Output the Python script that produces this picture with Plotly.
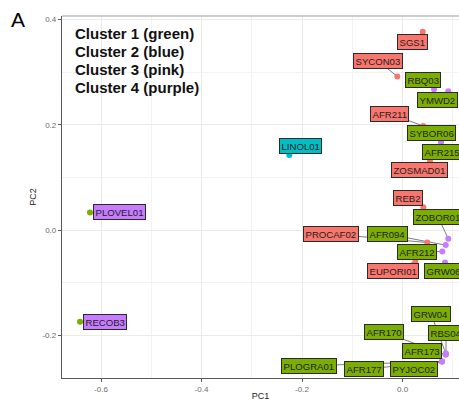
import plotly.graph_objects as go

# Sample names, PCA scores and cluster membership
samples = ["SGS1", "SYCON03", "RBQ03", "YMWD2", "AFR211", "SYBOR06", "AFR215",
           "ZOSMAD01", "LINOL01", "REB2", "ZOBOR01", "PROCAF02", "AFR094", "AFR212",
           "EUPORI01", "GRW06", "GRW04", "RBS04", "AFR170", "AFR173", "PLOGRA01",
           "AFR177", "PYJOC02", "PLOVEL01", "RECOB3"]
pc1 = [0.0402, -0.0103, 0.0627, 0.0911, 0.0414, 0.0766, 0.1300,
       0.0547, -0.2253, 0.0414, 0.0911, 0.0494, 0.0860, 0.0792,
       0.0255, 0.0846, 0.0860, 0.0866, 0.0855, 0.0860, 0.0786,
       0.0786, 0.0786, -0.6219, -0.6418]
pc2 = [0.377, 0.292, 0.268, 0.264, 0.198, 0.167, 0.150,
       0.131, 0.143, 0.0437, -0.0165, -0.0236, -0.0285, -0.0406,
       -0.0596, -0.0615, -0.234, -0.236, -0.237, -0.2355, -0.2496,
       -0.2496, -0.2496, 0.0334, -0.174]
cluster = [3, 3, 1, 1, 3, 1, 1,
           3, 2, 3, 1, 3, 1, 1,
           3, 1, 1, 1, 1, 1, 1,
           1, 1, 4, 4]

# Repelled label positions (data units)
label_pc1 = [0.0189, -0.0482, 0.0408, 0.0687, -0.0255, 0.0567, 0.0794,
             0.0342, -0.2030, 0.0109, 0.0707, -0.1417, -0.0308, 0.0289,
             -0.0189, 0.0806, 0.0567, 0.0866, -0.0368, 0.0388, -0.1860,
             -0.0766, 0.0223, -0.5622, -0.5914]
label_pc2 = [0.358, 0.321, 0.2855, 0.248, 0.221, 0.185, 0.148,
             0.1136, 0.159, 0.0613, 0.0253, -0.0074, -0.0074, -0.0422,
             -0.0773, -0.0783, -0.159, -0.195, -0.194, -0.229, -0.2577,
             -0.2644, -0.2644, 0.0338, -0.1747]

legend_lines = ["Cluster 1 (green)", "Cluster 2 (blue)", "Cluster 3 (pink)", "Cluster 4 (purple)"]
x_ticks = [-0.6, -0.4, -0.2, 0.0]
y_ticks = [-0.2, 0.0, 0.2, 0.4]

GREEN, BLUE, PINK, PURPLE = "#7CAE00", "#00BFC4", "#F8766D", "#C77CFF"
label_colour = {1: GREEN, 2: BLUE, 3: PINK, 4: PURPLE}
point_colour = {1: PURPLE, 2: BLUE, 3: PINK, 4: GREEN}

FONT = "Liberation Sans, Arial, sans-serif"

W, H = 459, 401
L, R, T, B = 62, 0, 16, 23


def px_to_paper(x, y):
    """Pixel position on the page -> paper coordinates of the plot area."""
    return (x - L) / (W - L - R), 1 - (y - T) / (H - T - B)


fig = go.Figure()

# connector segments from each label to its point
for x0, y0, x1, y1 in zip(label_pc1, label_pc2, pc1, pc2):
    fig.add_trace(go.Scatter(x=[x0, x1], y=[y0, y1], mode="lines",
                             line=dict(color="#6e6e6e", width=0.9),
                             hoverinfo="skip", showlegend=False))

fig.add_trace(go.Scatter(
    x=pc1, y=pc2, mode="markers", text=samples,
    marker=dict(size=6, color=[point_colour[c] for c in cluster], line=dict(width=0)),
    showlegend=False, hovertemplate="%{text}<extra></extra>"))

for name, lx, ly, c in zip(samples, label_pc1, label_pc2, cluster):
    fig.add_annotation(x=lx, y=ly, xref="x", yref="y", text=name, showarrow=False,
                       font=dict(family=FONT, size=9.6, color="#1e1e1e"),
                       bgcolor=label_colour[c], bordercolor="#2a2a2a",
                       borderwidth=1, borderpad=1.5)

for i, line in enumerate(legend_lines):
    px, py = px_to_paper(73, 33 + 18 * i)
    fig.add_annotation(x=px, y=py, xref="paper", yref="paper", text=f"<b>{line}</b>",
                       showarrow=False, xanchor="left", yanchor="middle",
                       font=dict(family=FONT, size=15, color="#111111"))

# panel letter
px, py = px_to_paper(18, 20)
fig.add_annotation(x=px, y=py, xref="paper", yref="paper", text="A", showarrow=False,
                   xanchor="center", yanchor="middle",
                   font=dict(family=FONT, size=21, color="#000000"))

# top border of the panel
fig.add_shape(type="line", xref="paper", yref="paper", x0=0, x1=1, y0=1, y1=1,
              line=dict(color="#9e9e9e", width=1))

axis_common = dict(
    showgrid=True, gridcolor="#ebebeb", gridwidth=1,
    zeroline=False, showline=True, linecolor="#5a5a5a", linewidth=1.3,
    ticks="outside", ticklen=3, tickcolor="#5a5a5a", tickwidth=1,
    tickfont=dict(family=FONT, size=8, color="#6a6a6a"),
    minor=dict(dtick=0.1, showgrid=True, gridcolor="#f3f3f3", gridwidth=0.7, ticks=""),
)

fig.update_xaxes(**axis_common, range=[-0.6776, 0.1124], tickvals=x_ticks,
                 ticktext=[f"{v:.1f}" for v in x_ticks], tick0=0,
                 title=dict(text="PC1", font=dict(family=FONT, size=9, color="#222222"), standoff=2),
                 automargin=False)
fig.update_yaxes(**axis_common, range=[-0.2811, 0.407], tickvals=y_ticks,
                 ticktext=[f"{v:.1f}" for v in y_ticks], tick0=0,
                 title=dict(text="PC2", font=dict(family=FONT, size=9, color="#222222"), standoff=4),
                 automargin=False)

fig.update_layout(width=W, height=H, margin=dict(l=L, r=R, t=T, b=B),
                  plot_bgcolor="white", paper_bgcolor="white", showlegend=False,
                  font=dict(family=FONT))

fig.write_html("out.html")
